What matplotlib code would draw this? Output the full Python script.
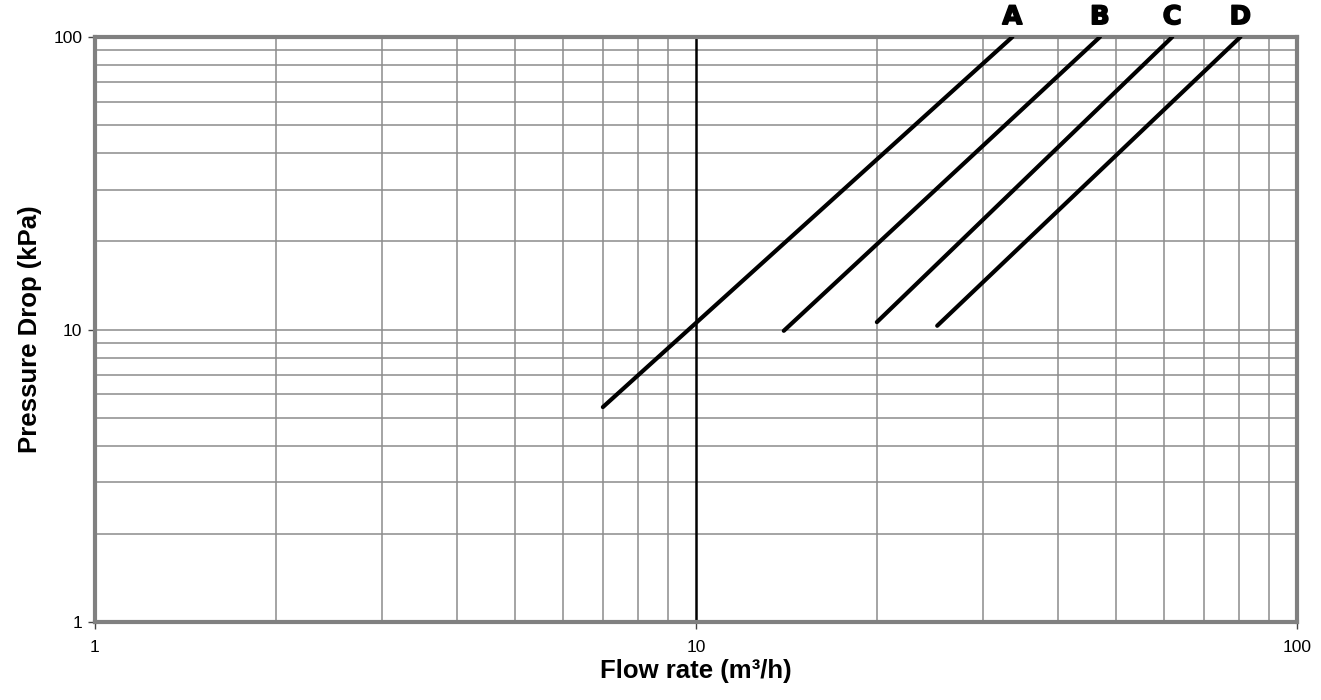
import matplotlib.pyplot as plt
import matplotlib.patheffects as pe
from matplotlib.ticker import LogLocator, NullFormatter

# curve end points (flow m3/h, pressure drop kPa)
curve_names = ['A', 'B', 'C', 'D']
flow_start = [7.0, 14.0, 20.0, 25.2]
flow_end = [33.6, 47.0, 62.0, 80.5]
dp_start = [5.43, 9.9, 10.6, 10.3]
dp_end = [100, 100, 100, 100]

plt.rcParams['font.family'] = ['Liberation Sans', 'DejaVu Sans']

fig = plt.figure(figsize=(13.21, 7.0), dpi=100)
ax = fig.add_axes((0.0719, 0.1114, 0.9099, 0.8357))

ax.set_xscale('log')
ax.set_yscale('log')
ax.set_xlim(1, 100)
ax.set_ylim(1, 100)

# grid
ax.xaxis.set_minor_locator(LogLocator(base=10, subs=range(2, 10)))
ax.yaxis.set_minor_locator(LogLocator(base=10, subs=range(2, 10)))
ax.xaxis.set_minor_formatter(NullFormatter())
ax.yaxis.set_minor_formatter(NullFormatter())
ax.grid(which='minor', axis='both', color='#8c8c8c', lw=1.1)
ax.grid(which='major', axis='y', color='#8c8c8c', lw=1.1)
ax.axvline(10, color='black', lw=1.8, zorder=2)

ax.set_xticks([1, 10, 100])
ax.set_xticklabels(['1', '10', '100'])
ax.set_yticks([1, 10, 100])
ax.set_yticklabels(['1', '10', '100'])
ax.tick_params(which='major', length=5, width=1, color='#444444', labelsize=12.5)
ax.tick_params(which='minor', length=0)
ax.tick_params(axis='x', pad=8)
ax.tick_params(axis='y', pad=4)

for s in ax.spines.values():
    s.set_color('#808080')
    s.set_linewidth(3)

for name, x0, x1, y0, y1 in zip(curve_names, flow_start, flow_end, dp_start, dp_end):
    ax.plot([x0, x1], [y0, y1], color='black', lw=3, solid_capstyle='round', zorder=3)
    ax.text(x1, 1.034, name, transform=ax.get_xaxis_transform(), ha='center', va='center',
            fontsize=18.5, fontweight='bold', family='DejaVu Sans',
            path_effects=[pe.withStroke(linewidth=1.2, foreground='black')])

ax.set_xlabel('Flow rate (m³/h)', fontsize=18.5, fontweight='bold', labelpad=3)
ax.set_ylabel('Pressure Drop (kPa)', fontsize=18.5, fontweight='bold', labelpad=8)

fig.savefig('out.png', dpi=100)
